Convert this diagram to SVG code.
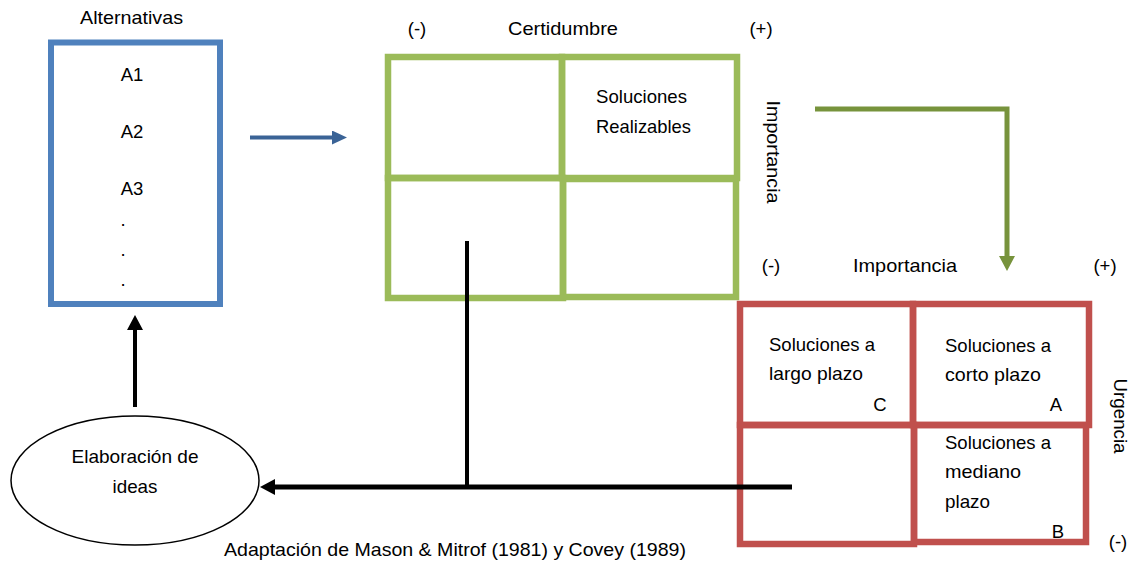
<svg xmlns="http://www.w3.org/2000/svg" width="1133" height="562" viewBox="0 0 1133 562">
<style>
text{font-family:"Liberation Sans",Arial,sans-serif;font-size:18.5px;fill:#000}
.mid{text-anchor:middle}
.blue{fill:none;stroke:#4F81BD;stroke-width:6}
.green{fill:none;stroke:#9BBB59;stroke-width:6.5}
.red{fill:none;stroke:#C0504D;stroke-width:6.5}
.conn{fill:none;stroke-linecap:butt}
</style>
<defs>
<marker id="ab" markerUnits="userSpaceOnUse" viewBox="0 0 15 14" markerWidth="15" markerHeight="14" refX="1" refY="7" orient="auto"><path d="M0,0L15,7L0,14z" fill="#3A6396"/></marker>
<marker id="ag" markerUnits="userSpaceOnUse" viewBox="0 0 15 16" markerWidth="15" markerHeight="16" refX="1" refY="8" orient="auto"><path d="M0,0L15,8L0,16z" fill="#77933C"/></marker>
<marker id="ak" markerUnits="userSpaceOnUse" viewBox="0 0 15 16" markerWidth="15" markerHeight="16" refX="1" refY="8" orient="auto"><path d="M0,0L15,8L0,16z" fill="#000"/></marker>
</defs>

<g id="alternativas">
<text class="mid" x="131.5" y="24" textLength="103" lengthAdjust="spacingAndGlyphs">Alternativas</text>
<rect class="blue" x="51" y="42.5" width="169" height="261.5"/>
<text class="mid" x="132" y="81">A1</text>
<text class="mid" x="132" y="138">A2</text>
<text class="mid" x="132" y="195">A3</text>
<text class="mid" x="123" y="226">.</text>
<text class="mid" x="123" y="256">.</text>
<text class="mid" x="123" y="286">.</text>
</g>

<g id="certidumbre">
<text class="mid" x="417" y="35">(-)</text>
<text class="mid" x="563" y="35" textLength="110" lengthAdjust="spacingAndGlyphs">Certidumbre</text>
<text class="mid" x="761" y="35">(+)</text>
<rect class="green" x="388" y="57" width="174" height="121"/>
<rect class="green" x="562" y="57" width="175" height="121"/>
<rect class="green" x="388" y="178" width="175" height="120"/>
<rect class="green" x="563" y="179" width="173" height="118"/>
<text x="596" y="103" textLength="91" lengthAdjust="spacingAndGlyphs">Soluciones</text>
<text x="596" y="133" textLength="95" lengthAdjust="spacingAndGlyphs">Realizables</text>
<text class="mid" transform="translate(767,152) rotate(90)" x="0" y="0" textLength="103" lengthAdjust="spacingAndGlyphs">Importancia</text>
</g>

<g id="urgencia">
<text class="mid" x="771" y="272">(-)</text>
<text class="mid" x="905" y="272" textLength="104" lengthAdjust="spacingAndGlyphs">Importancia</text>
<text class="mid" x="1105" y="272">(+)</text>
<rect class="red" x="740" y="304" width="173" height="121"/>
<rect class="red" x="913" y="304" width="176" height="121"/>
<rect class="red" x="740" y="425" width="174" height="119"/>
<rect class="red" x="914" y="425" width="172" height="117"/>
<text x="769" y="351" textLength="106" lengthAdjust="spacingAndGlyphs">Soluciones a</text>
<text x="769" y="380" textLength="94" lengthAdjust="spacingAndGlyphs">largo plazo</text>
<text class="mid" x="880" y="411">C</text>
<text x="945" y="352" textLength="106" lengthAdjust="spacingAndGlyphs">Soluciones a</text>
<text x="945" y="381" textLength="96" lengthAdjust="spacingAndGlyphs">corto plazo</text>
<text class="mid" x="1056" y="411">A</text>
<text x="945" y="449" textLength="106" lengthAdjust="spacingAndGlyphs">Soluciones a</text>
<text x="945" y="478" textLength="76" lengthAdjust="spacingAndGlyphs">mediano</text>
<text x="945" y="508" textLength="45" lengthAdjust="spacingAndGlyphs">plazo</text>
<text class="mid" x="1058" y="538">B</text>
<text class="mid" x="1118" y="548">(-)</text>
<text class="mid" transform="translate(1114,416) rotate(90)" x="0" y="0" textLength="75" lengthAdjust="spacingAndGlyphs">Urgencia</text>
</g>

<g id="elaboracion">
<ellipse cx="135" cy="480.5" rx="124" ry="64.5" fill="#fff" stroke="#000" stroke-width="1.5"/>
<text class="mid" x="135" y="463" textLength="127" lengthAdjust="spacingAndGlyphs">Elaboración de</text>
<text class="mid" x="135" y="493" textLength="45" lengthAdjust="spacingAndGlyphs">ideas</text>
</g>

<g id="caption">
<text class="mid" x="455" y="556" textLength="462" lengthAdjust="spacingAndGlyphs">Adaptación de Mason &amp; Mitrof (1981) y Covey (1989)</text>
</g>

<g id="connectors" class="conn">
<line x1="250" y1="137.5" x2="333" y2="137.5" stroke="#3A6396" stroke-width="4" marker-end="url(#ab)"/>
<polyline points="815,109 1007,109 1007,257" stroke="#77933C" stroke-width="5" fill="none" marker-end="url(#ag)"/>
<line x1="467" y1="241" x2="467" y2="487" stroke="#000" stroke-width="4"/>
<line x1="792" y1="487" x2="274" y2="487" stroke="#000" stroke-width="5" marker-end="url(#ak)"/>
<line x1="135" y1="407" x2="135" y2="329" stroke="#000" stroke-width="4" marker-end="url(#ak)"/>
</g>
</svg>
